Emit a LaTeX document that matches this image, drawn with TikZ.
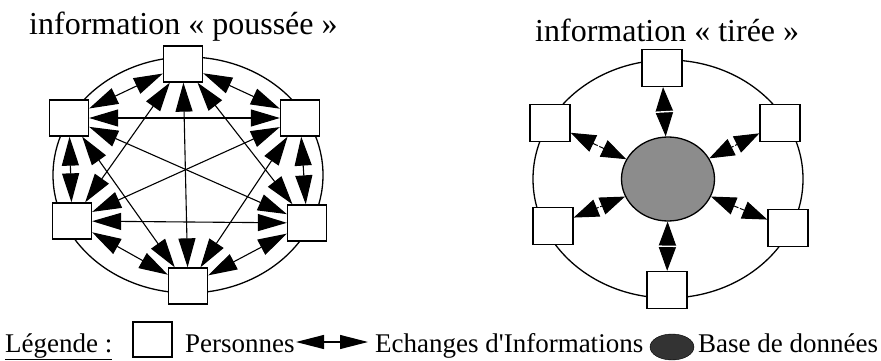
\documentclass[tikz,border=0pt]{standalone}
\usepackage{fontspec}
\setmainfont{Liberation Serif}
\usetikzlibrary{positioning,arrows.meta,shapes.geometric,decorations.markings}
\tikzset{
    personne/.style={
        draw,
        fill=white,
        line width=1.3pt,
        minimum width=39pt,
        minimum height=36pt,
        inner sep=0pt
    },
    echange/.style={
        {Triangle[length=29pt,width=17pt]}-{Triangle[length=29pt,width=17pt]},
        line width=1.1pt
    },
    acces/.style={
        {Triangle[length=25pt,width=18pt]}-{Triangle[length=25pt,width=18pt]},
        line width=1pt,
        postaction={decorate, decoration={markings,
            mark=at position 0.5 with {\draw[white, -, line width=1.4pt] (0,-10pt) -- (0,10pt);}}}
    },
    anneau/.style={line width=1.3pt},
    titre/.style={font=\fontsize{32}{38}\selectfont, anchor=base west, inner sep=0pt},
    legende/.style={font=\fontsize{27}{32}\selectfont, anchor=base west, inner sep=0pt}
}

\begin{document}
\begin{tikzpicture}[x=1pt, y=-1pt]
    \useasboundingbox (0,0) rectangle (881,361);

    % titres
    \node[titre] (titrePousse) at (29,35) {information « poussée »};
    \node[titre] (titreTire) at (535,42) {information « tirée »};

    % information poussee
    \draw[anneau] (188,175) ellipse [x radius=135, y radius=118];
    \node[personne] (pT) at (183,64) {};
    \node[personne] (pUL) at (69,118) {};
    \node[personne] (pUR) at (300,118) {};
    \node[personne] (pLL) at (72,221) {};
    \node[personne] (pLR) at (307,223) {};
    \node[personne] (pB) at (188,286) {};
    \foreach \a/\b in {pT/pUL, pT/pUR, pUL/pLL, pUR/pLR, pLL/pB, pLR/pB,
                       pT/pLL, pT/pLR, pUL/pUR, pLL/pLR, pUL/pB, pUR/pB,
                       pT/pB, pUL/pLR, pUR/pLL}
        \draw[echange] (\a) -- (\b);

    % information tiree
    \draw[anneau] (668,179) ellipse [x radius=135, y radius=119];
    \node[draw, ellipse, line width=1.3pt, fill=black!45,
          minimum width=93pt, minimum height=84pt] (db) at (668,179) {};
    \node[personne, minimum width=40pt, minimum height=37pt] (rT) at (662,68) {};
    \node[personne, minimum width=40pt, minimum height=37pt] (rUL) at (550,123) {};
    \node[personne, minimum width=40pt, minimum height=37pt] (rUR) at (780,123) {};
    \node[personne, minimum width=40pt, minimum height=37pt] (rLL) at (553,226) {};
    \node[personne, minimum width=40pt, minimum height=37pt] (rLR) at (788,228) {};
    \node[personne, minimum width=40pt, minimum height=37pt] (rB) at (667,290) {};
    \foreach \b in {rT, rUL, rUR, rLL, rLR, rB}
        \draw[acces] (db) -- (\b);

    % legende
    \node[legende] (leg) at (5,352) {\underline{Légende :}};
    \node[personne, minimum height=35pt] (legBox) at (152.5,339.5) {};
    \node[legende] (legPers) at (185,352) {Personnes};
    \coordinate (legA) at (296,342);
    \coordinate (legB) at (368,342);
    \draw[{Triangle[length=28pt,width=14pt]}-{Triangle[length=28pt,width=14pt]}, line width=1.1pt] (legA) -- (legB);
    \node[legende] (legEch) at (375,352) {Echanges d\textquotesingle Informations};
    \node[draw, ellipse, fill=black!80, minimum width=44pt, minimum height=26pt] (legDb) at (672,347) {};
    \node[legende] (legBase) at (698,352) {Base de données};
\end{tikzpicture}
\end{document}
